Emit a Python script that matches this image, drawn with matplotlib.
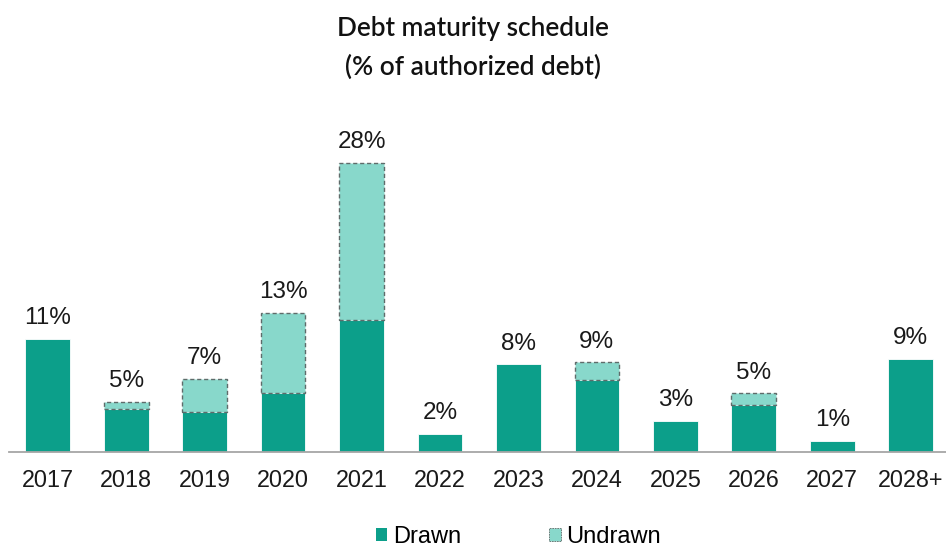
import matplotlib.pyplot as plt
from matplotlib.patches import Patch

plt.rcParams['font.family'] = ['Liberation Sans', 'DejaVu Sans']

years = ['2017', '2018', '2019', '2020', '2021', '2022', '2023', '2024',
         '2025', '2026', '2027', '2028+']
drawn = [11.0, 4.2, 3.9, 5.7, 12.8, 1.8, 8.5, 7.0, 3.0, 4.6, 1.1, 9.0]
undrawn = [0, 0.7, 3.2, 7.8, 15.2, 0, 0, 1.7, 0, 1.1, 0, 0]
labels = ['11%', '5%', '7%', '13%', '28%', '2%', '8%', '9%', '3%', '5%', '1%', '9%']

c_drawn = '#0c9f8a'
c_undrawn = '#88d8cb'

fig = plt.figure(figsize=(9.46, 5.5), dpi=100)
ax = fig.add_axes([0.009, 0.178, 0.991, 0.563])

x = list(range(len(years)))
ax.bar(x, drawn, width=0.57, color=c_drawn, edgecolor='white', linewidth=0.6)
for i in x:
    if undrawn[i] > 0:
        ax.bar(i, undrawn[i], bottom=drawn[i], width=0.57, color=c_undrawn,
               edgecolor='#5f6b6a', linewidth=1.0, linestyle=(0, (3, 2)))

for i in x:
    top = drawn[i] + undrawn[i]
    ax.annotate(labels[i], (i, top), xytext=(0, 7), textcoords='offset points',
                ha='center', va='bottom', fontsize=17.5, color='#1a1a1a')

ax.set_xlim(-0.5, 11.45)
ax.set_ylim(0, 30)
ax.set_xticks(x)
ax.set_xticklabels(years, fontsize=16.8, color='#1a1a1a')
ax.tick_params(axis='x', length=0, pad=12)
ax.set_yticks([])
for s in ['top', 'right', 'left']:
    ax.spines[s].set_visible(False)
ax.spines['bottom'].set_color('#a6a6a6')
ax.spines['bottom'].set_linewidth(1.3)

fig.text(0.5, 0.948, 'Debt maturity schedule', ha='center', va='center',
         fontsize=18.8, fontfamily='Lato', fontweight='semibold', color='#111111')
fig.text(0.5, 0.877, '(% of authorized debt)', ha='center', va='center',
         fontsize=18.8, fontfamily='Lato', fontweight='semibold', color='#111111')

handles = [Patch(facecolor=c_drawn, edgecolor='none', label='Drawn'),
           Patch(facecolor=c_undrawn, edgecolor='#5f6b6a', linestyle=(0, (2, 1)),
                 linewidth=0.6, label='Undrawn')]
fig.legend(handles=handles, loc='center', bbox_to_anchor=(0.548, 0.024), ncol=2,
           frameon=False, fontsize=17, handlelength=0.5, handleheight=0.5,
           handletextpad=0.25, columnspacing=3.7)

fig.savefig('out.png', dpi=100)
